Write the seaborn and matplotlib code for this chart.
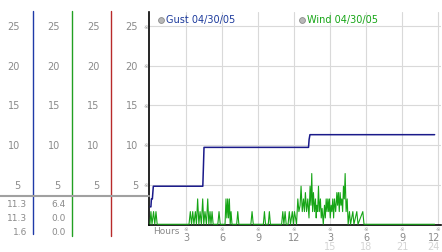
import matplotlib
matplotlib.use("Agg")
import matplotlib.pyplot as plt
from matplotlib.lines import Line2D
import seaborn as sns
import pandas as pd

# ---------------- data ----------------
gust_hours = [0.02, 0.08, 0.12, 0.2, 0.28, 0.35, 4.40, 4.45, 4.50, 13.20, 13.25, 13.32, 23.70]
gust_speed = [2.2, 2.2, 3.2, 3.2, 4.8, 4.8, 4.8, 7.2, 9.7, 9.7, 10.7, 11.3, 11.3]

wind_hours = [0.0, 0.08, 0.17, 0.3, 0.4, 0.5, 0.6,
              3.25, 3.36, 3.46, 3.56, 3.66, 3.78, 3.87, 3.97, 4.07, 4.17, 4.28, 4.39, 4.48,
              4.58, 4.70, 4.81, 4.90, 5.00, 5.08, 5.17, 5.26,
              5.65, 5.75, 5.85,
              6.25, 6.33, 6.40, 6.47, 6.54, 6.61, 6.68, 6.75, 6.83,
              7.22, 7.31, 7.40,
              8.40, 8.50, 8.60,
              9.44, 9.53, 9.62, 9.85, 9.94, 10.03,
              10.96, 11.06, 11.15, 11.25, 11.34,
              11.50, 11.60, 11.70, 11.85, 11.94,
              12.03, 12.12, 12.20, 12.31, 12.40, 12.50, 12.58, 12.68, 12.78, 12.86, 12.94,
              13.04, 13.14, 13.24, 13.33, 13.40, 13.47, 13.54, 13.61, 13.70, 13.78, 13.84,
              13.89, 13.96, 14.03, 14.10, 14.19, 14.26, 14.33, 14.43, 14.53, 14.60, 14.67,
              14.74, 14.81, 14.88, 14.94, 15.01, 15.08, 15.15, 15.22, 15.29, 15.36, 15.46,
              15.56, 15.62, 15.69, 15.76, 15.83, 15.90, 15.97, 16.04, 16.11, 16.18, 16.25,
              16.33, 16.42, 16.50, 16.61, 16.70, 16.89, 16.98, 17.22, 17.32, 17.72, 17.82,
              23.70]
wind_speed = [0, 1.6, 0, 1.6, 0, 1.6, 0,
              0, 1.6, 0, 1.6, 0, 1.6, 0, 3.2, 0, 1.6, 0, 3.2, 0,
              1.6, 0, 3.2, 0, 1.6, 0, 1.6, 0,
              0, 1.6, 0,
              0, 3.2, 0.8, 3.2, 0.8, 3.2, 0, 1.6, 0,
              0, 1.6, 0,
              0, 1.6, 0,
              0, 1.6, 0, 0, 1.6, 0,
              0, 1.6, 0, 1.6, 0,
              0, 1.6, 0, 1.6, 0,
              1.6, 0.8, 0, 3.2, 1.6, 2.4, 4.8, 1.6, 3.2, 1.6, 4.0,
              1.6, 3.2, 0.8, 4.8, 2.4, 6.4, 1.6, 4.0, 1.6, 3.2, 0.8,
              2.4, 1.6, 4.8, 1.6, 3.2, 0.8, 2.0, 0, 2.4, 0.8, 3.2,
              1.6, 3.2, 1.6, 3.2, 0.8, 2.4, 1.6, 3.2, 0.8, 3.2, 1.6,
              4.0, 2.4, 4.0, 1.6, 4.0, 2.4, 3.2, 1.6, 4.8, 3.2, 6.4,
              1.6, 3.2, 0, 1.6, 0, 1.6, 0, 1.6, 0, 1.6, 0,
              0]

y_levels = [5, 10, 15, 20, 25]
x_ticks = [3, 6, 9, 12, 15, 18, 21, 24]
x_top_labels = ["3", "6", "9", "12", "3", "6", "9", "12"]
x_bottom_labels = ["15", "18", "21", "24"]
stats_col1 = ["11.3", "11.3", "1.6"]
stats_col2 = ["6.4", "0.0", "0.0"]
legend_labels = ["Gust 04/30/05", "Wind 04/30/05"]

# ---------------- style ----------------
sns.set_style("white")
plt.rcParams["font.family"] = ["DejaVu Sans"]

W, H = 442, 253
fig = plt.figure(figsize=(W / 100, H / 100), dpi=100)

def fx(px):
    return px / W

def fy(py):
    return 1 - py / H

ax = fig.add_axes([fx(149), fy(226), fx(441) - fx(149), fy(13) - fy(226)])

GUST_C = "#1a1a8a"
WIND_C = "#16a516"
GRID_C = "#d9d9d9"
LABEL_C = "#8a8a8a"

df_g = pd.DataFrame({"hour": gust_hours, "speed": gust_speed})
df_w = pd.DataFrame({"hour": wind_hours, "speed": wind_speed})

sns.lineplot(data=df_w, x="hour", y="speed", ax=ax, color=WIND_C, lw=0.8,
             estimator=None, sort=False, zorder=3)
sns.lineplot(data=df_g, x="hour", y="speed", ax=ax, color=GUST_C, lw=1.1,
             estimator=None, sort=False, zorder=4)

ax.set_xlim(-0.08, 24.23)
ax.set_ylim(-0.09, 26.77)
ax.set_xticks(x_ticks)
ax.set_yticks(y_levels)
ax.grid(True, color=GRID_C, lw=0.8)
ax.set_axisbelow(True)
ax.tick_params(length=0, labelleft=False, labelbottom=False)
ax.set_xlabel("")
ax.set_ylabel("")
for s in ["top", "right"]:
    ax.spines[s].set_visible(False)
for s in ["left", "bottom"]:
    ax.spines[s].set_color("black")
    ax.spines[s].set_linewidth(1.2)

# left panel separators
for xp, col, y1 in [(33, "#1f3aa8", 235), (72, "#22a022", 237), (111, "#b82a2a", 237)]:
    fig.add_artist(Line2D([fx(xp), fx(xp)], [fy(12), fy(y1)], color=col, lw=1.0))
fig.add_artist(Line2D([fx(0), fx(149)], [fy(197), fy(197)], color="#a0a0a0", lw=1.5))

# y level labels in four columns
ytr = ax.get_yaxis_transform()
for v in y_levels:
    for xp in [20, 60, 99.5, 138]:
        ax.text((xp - 149) / 292, v, str(v), transform=ytr, ha="right", va="center",
                fontsize=7, color=LABEL_C, clip_on=False)
    ax.text((146 - 149) / 292, v, "\u203b", transform=ytr, ha="center", va="center",
            fontsize=4, color="#999999", clip_on=False)

# stats rows
for i, (a, b) in enumerate(zip(stats_col1, stats_col2)):
    py = 205 + i * 13.6
    fig.text(fx(27), fy(py), a, ha="right", va="center", fontsize=6.5, color=LABEL_C)
    fig.text(fx(66), fy(py), b, ha="right", va="center", fontsize=6.5, color=LABEL_C)

# x labels
xtr = ax.get_xaxis_transform()
def ay(py):
    return (226 - py) / 213

for t, lab in zip(x_ticks, x_top_labels):
    ax.text(t, ay(229.5), "\u203b", transform=xtr, ha="center", va="center",
            fontsize=4, color="#999999", clip_on=False)
    if t == x_ticks[-1]:
        ax.text(t + 0.15, ay(238.5), lab, transform=xtr, ha="right", va="center",
                fontsize=7, color=LABEL_C, clip_on=False)
    else:
        ax.text(t, ay(238.5), lab, transform=xtr, ha="center", va="center",
                fontsize=7, color=LABEL_C, clip_on=False)
for t, lab in zip(x_ticks[4:], x_bottom_labels):
    if t == x_ticks[-1]:
        ax.text(t + 0.15, ay(247), lab, transform=xtr, ha="right", va="center",
                fontsize=7, color="#d4d4d4", clip_on=False)
    else:
        ax.text(t, ay(247), lab, transform=xtr, ha="center", va="center",
                fontsize=7, color="#d4d4d4", clip_on=False)
fig.text(fx(153), fy(232), "Hours", ha="left", va="center", fontsize=6.5, color=LABEL_C)

# legend entries
for (xp, lab, col) in [(161, legend_labels[0], "#1c3a9c"), (302, legend_labels[1], WIND_C)]:
    fig.add_artist(Line2D([fx(xp)], [fy(20.5)], marker="o", markersize=4.2,
                          markerfacecolor="#b8b8b8", markeredgecolor="#8a8a8a",
                          markeredgewidth=0.6, lw=0))
    fig.text(fx(xp + 5), fy(20.5), lab, ha="left", va="center", fontsize=7, color=col)

fig.savefig("out.png", dpi=100)
